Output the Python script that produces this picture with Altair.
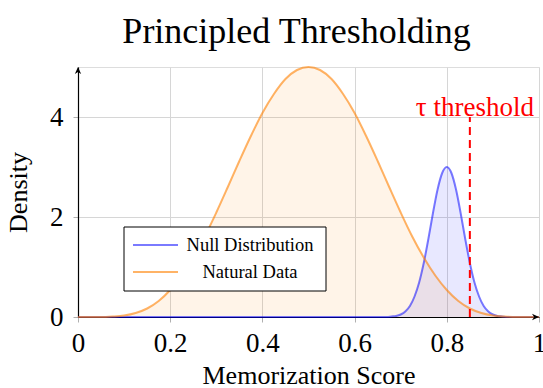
import altair as alt
import pandas as pd

# Natural data density, sampled on a 0.025 grid
natural_x = [0.0, 0.025, 0.05, 0.075, 0.1, 0.125, 0.15, 0.175, 0.2, 0.225,
             0.25, 0.275, 0.3, 0.325, 0.35, 0.375, 0.4, 0.425, 0.45, 0.475,
             0.5, 0.525, 0.55, 0.575, 0.6, 0.625, 0.65, 0.675, 0.7, 0.725,
             0.75, 0.775, 0.8, 0.825, 0.85, 0.875, 0.9, 0.925, 0.95, 0.975, 1.0]
natural_y = [0.00, 0.00, 0.00, 0.01, 0.03, 0.08, 0.17, 0.32, 0.54, 0.83,
             1.19, 1.61, 2.09, 2.60, 3.12, 3.62, 4.08, 4.46, 4.76, 4.94,
             5.00, 4.94, 4.76, 4.46, 4.08, 3.62, 3.12, 2.60, 2.09, 1.61,
             1.19, 0.83, 0.54, 0.32, 0.17, 0.08, 0.03, 0.01, 0.00, 0.00, 0.00]

# Null distribution density
null_x = [0.0, 0.6, 0.66, 0.67, 0.68, 0.69, 0.70, 0.71, 0.72, 0.73, 0.74,
          0.75, 0.76, 0.77, 0.78, 0.79, 0.80, 0.81, 0.82, 0.83, 0.84, 0.85,
          0.86, 0.87, 0.88, 0.89, 0.90, 0.91, 0.92, 0.93, 0.94, 1.0]
null_y = [0.00, 0.00, 0.00, 0.00, 0.01, 0.02, 0.05, 0.11, 0.22, 0.41, 0.69,
          1.08, 1.56, 2.08, 2.55, 2.88, 3.00, 2.88, 2.55, 2.08, 1.56, 1.08,
          0.69, 0.41, 0.22, 0.11, 0.05, 0.02, 0.01, 0.00, 0.00, 0.00]

series_names = ["Null Distribution", "Natural Data"]
series_colors = ["#0000FF", "#FF8000"]
line_opacity = [0.52, 0.6]

threshold_x = [0.85]
threshold_bottom = [0]
threshold_top = [4]
threshold_label = ["τ threshold"]

x_domain = [0, 1]
y_domain = [0, 5]
x_ticks = [0, 0.2, 0.4, 0.6, 0.8, 1]
y_ticks = [0, 2, 4]

SERIF = "Liberation Serif"

null_df = pd.DataFrame({"x": null_x, "y": null_y, "series": series_names[0]})
natural_df = pd.DataFrame({"x": natural_x, "y": natural_y, "series": series_names[1]})

x_enc = alt.X(
    "x:Q",
    scale=alt.Scale(domain=x_domain, nice=False, zero=False),
    axis=alt.Axis(
        values=x_ticks, format=".1~f", labelFlush=False, labelOverlap=False,
        grid=True, gridColor="#d6d6d6", gridWidth=1,
        domainColor="black", domainWidth=1.2,
        tickColor="#b0b0b0", tickSize=5, tickWidth=1,
        labelFont=SERIF, labelFontSize=27, labelColor="black", labelPadding=8,
        title="Memorization Score", titleFont=SERIF, titleFontSize=26,
        titleFontWeight="normal", titleColor="black",
        titleY=66, titleBaseline="alphabetic",
    ),
)
y_enc = alt.Y(
    "y:Q",
    scale=alt.Scale(domain=y_domain, nice=False, zero=False),
    axis=alt.Axis(
        values=y_ticks, format="d",
        grid=True, gridColor="#d6d6d6", gridWidth=1,
        domainColor="black", domainWidth=1.2,
        tickColor="#b0b0b0", tickSize=5, tickWidth=1,
        labelFont=SERIF, labelFontSize=27, labelColor="black", labelPadding=10,
        title="Density", titleFont=SERIF, titleFontSize=26,
        titleFontWeight="normal", titleColor="black",
        titleX=-52, titleY=125, titleAngle=270, titleAlign="center",
        titleBaseline="alphabetic",
    ),
)


def area_layer(df, color):
    return alt.Chart(df).mark_area(
        color=color, opacity=0.09, interpolate="monotone"
    ).encode(x=x_enc, y=y_enc)


def line_layer(df, color, op):
    return alt.Chart(df).mark_line(
        color=color, opacity=op, strokeWidth=2, interpolate="monotone"
    ).encode(x=x_enc, y=y_enc)


areas = area_layer(null_df, series_colors[0]) + area_layer(natural_df, series_colors[1])
lines = (line_layer(null_df, series_colors[0], line_opacity[0])
         + line_layer(natural_df, series_colors[1], line_opacity[1]))

# Arrow heads at the ends of the axes
arrow_right = alt.Chart(pd.DataFrame({"x": [x_domain[1]], "y": [y_domain[0]]})).mark_point(
    shape="M-2,-0.9L0,0L-2,0.9L-1.4,0Z", filled=True, size=49, color="black", opacity=1
).encode(x=x_enc, y=y_enc)
arrow_up = alt.Chart(pd.DataFrame({"x": [x_domain[0]], "y": [y_domain[1]]})).mark_point(
    shape="M-0.9,2L0,0L0.9,2L0,1.4Z", filled=True, size=49, color="black", opacity=1
).encode(x=x_enc, y=y_enc)

thr_df = pd.DataFrame({"x": threshold_x, "y": threshold_bottom,
                       "y2": threshold_top, "label": threshold_label})
thr_rule = alt.Chart(thr_df).mark_rule(
    color="#FF0000", strokeWidth=2, strokeDash=[8, 5]
).encode(x=x_enc, y=y_enc, y2="y2:Q")
thr_text = alt.Chart(thr_df).mark_text(
    font=SERIF, fontSize=27, color="#FF0000", align="center",
    baseline="alphabetic", dx=5, dy=-1
).encode(x=x_enc, y=alt.Y("y2:Q"), text="label:N")

# Legend box with one row per series
legend_layers = [
    alt.Chart(pd.DataFrame({"name": ["legend"]})).mark_rect(
        fill="white", stroke="black", strokeWidth=1
    ).encode(x=alt.value(46), x2=alt.value(248), y=alt.value(160), y2=alt.value(224))
]
for i, (name, color, op) in enumerate(zip(series_names, series_colors, line_opacity)):
    row_y = 178 + 27 * i
    row_df = pd.DataFrame({"name": [name]})
    legend_layers.append(
        alt.Chart(row_df).mark_rule(color=color, opacity=op, strokeWidth=2).encode(
            x=alt.value(55), x2=alt.value(100), y=alt.value(row_y)
        )
    )
    legend_layers.append(
        alt.Chart(row_df).mark_text(
            font=SERIF, fontSize=18.5, color="black", align="center", baseline="middle"
        ).encode(x=alt.value(172), y=alt.value(row_y), text="name:N")
    )

chart = alt.layer(
    areas, lines, thr_rule, thr_text, arrow_right, arrow_up, *legend_layers
).properties(
    width=461,
    height=250,
    autosize="none",
    padding={"left": 78, "top": 67, "right": 4, "bottom": 71},
    title=alt.TitleParams(
        "Principled Thresholding", font=SERIF, fontSize=36, fontWeight="normal",
        color="black", anchor="middle", dx=-12, dy=34, offset=18, baseline="alphabetic",
    ),
).configure_view(stroke=None).configure(background="white")

chart.save("out.html", embed_options={"renderer": "svg", "actions": False})
